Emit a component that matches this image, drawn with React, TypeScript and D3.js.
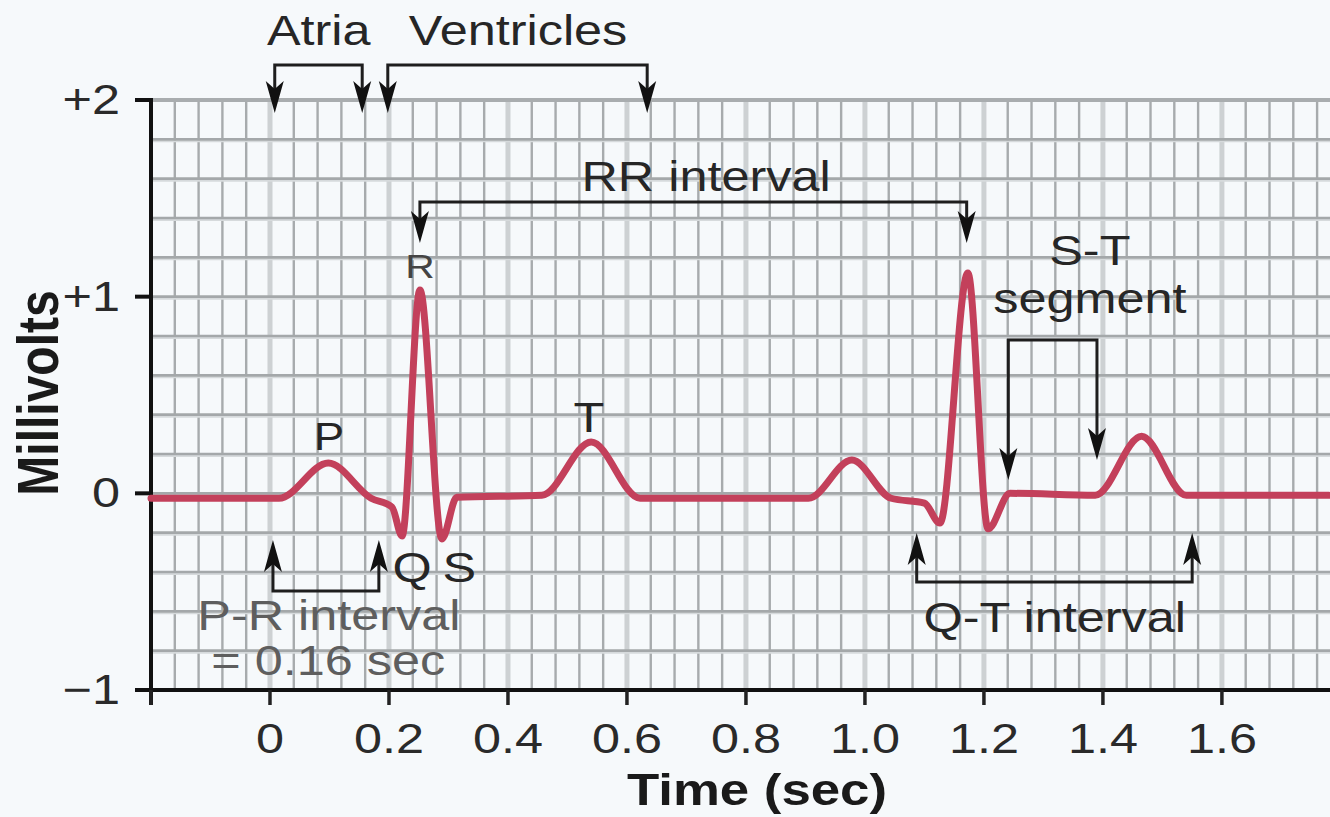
import { scaleLinear, line, curveMonotoneX, range } from "d3";

const WIDTH = 1330;
const HEIGHT = 817;
const FONT = '"Liberation Sans", Arial, Helvetica, sans-serif';
const STRETCH = 1.2; // the original figure is stretched horizontally

// ECG trace: time (sec) and amplitude (mV)
const traceTime = [
  -0.2, 0.015, 0.098, 0.17, 0.205, 0.222, 0.252, 0.289, 0.314, 0.457, 0.54, 0.622,
  0.905, 0.978, 1.044, 1.1, 1.126, 1.173, 1.207, 1.244, 1.387, 1.465, 1.54, 1.78,
];
const traceMv = [
  -0.025, -0.025, 0.154, -0.025, -0.07, -0.217, 1.034, -0.232, -0.02, -0.01, 0.261, -0.025,
  -0.025, 0.169, -0.025, -0.05, -0.151, 1.12, -0.18, 0.0, -0.01, 0.29, -0.01, -0.01,
];

const xTickValues = [-0.2, 0, 0.2, 0.4, 0.6, 0.8, 1.0, 1.2, 1.4, 1.6];
const xTickLabels = ["", "0", "0.2", "0.4", "0.6", "0.8", "1.0", "1.2", "1.4", "1.6"];
const yTickValues = [-1, 0, 1, 2];
const yTickLabels = ["\u22121", "0", "+1", "+2"];

// interval brackets: start / end time, bar level and arrow tip levels (mV)
const bracketNames = ["atria", "ventricles", "rr", "st", "pr", "qt"];
const bracketStart = [0.008, 0.198, 0.252, 1.241, 0.005, 1.087];
const bracketEnd = [0.155, 0.634, 1.171, 1.39, 0.183, 1.55];
const bracketBar = [2.178, 2.178, 1.481, 0.78, -0.497, -0.451];
const bracketTipStart = [1.934, 1.934, 1.273, 0.068, -0.237, -0.202];
const bracketTipEnd = [1.934, 1.934, 1.273, 0.169, -0.237, -0.202];

// annotation text anchored in data space
const labelText = [
  "Atria", "Ventricles", "RR interval", "R", "S-T", "segment", "P", "T", "Q", "S",
  "P-R interval", "= 0.16 sec", "Q-T interval",
];
const labelTime = [0.082, 0.417, 0.733, 0.252, 1.378, 1.378, 0.099, 0.536, 0.239, 0.318, 0.099, 0.098, 1.319];
const labelMv = [2.28, 2.28, 1.537, 1.095, 1.161, 0.917, 0.22, 0.312, -0.451, -0.451, -0.695, -0.924, -0.705];

const x = scaleLinear().domain([-0.2, 1.78]).range([151, 1329]);
const y = scaleLinear().domain([-1, 2]).range([690, 100]);

function StretchText({
  px,
  py,
  children,
  size = 42,
  anchor = "middle",
  weight = 400,
  fill = "#262626",
}: {
  px: number;
  py: number;
  children: string;
  size?: number;
  anchor?: string;
  weight?: number;
  fill?: string;
}) {
  return (
    <g transform={`translate(${px},${py}) scale(${STRETCH},1)`}>
      <text
        textAnchor={anchor}
        fontFamily={FONT}
        fontSize={size}
        fontWeight={weight}
        fill={fill}
      >
        {children}
      </text>
    </g>
  );
}

function arrowHead(px: number, tipY: number, dir: number) {
  const len = 32;
  const half = 9;
  return `M${px},${tipY} L${px - half},${tipY - dir * len} L${px},${tipY - dir * (len - 8)} L${px + half},${tipY - dir * len} Z`;
}

export default function App() {
  const points = traceTime.map((t, i) => [t, traceMv[i]] as [number, number]);
  const tracePath = line<[number, number]>()
    .x((d) => x(d[0]))
    .y((d) => y(d[1]))
    .curve(curveMonotoneX)(points);

  const vLines = range(0, 50).map((k) => -0.2 + k * 0.04).filter((t) => t > -0.19 && t <= 1.78);
  const hLines = range(0, 15).map((k) => -1 + k * 0.2).filter((v) => v > -0.99 && v < 1.99);

  return (
    <svg
      width={WIDTH}
      height={HEIGHT}
      viewBox={`0 0 ${WIDTH} ${HEIGHT}`}
      style={{ position: "absolute", left: 0, top: 0, display: "block" }}
    >
      <rect x={0} y={0} width={WIDTH} height={HEIGHT} fill="#f6f9fb" />

      {/* grid */}
      {vLines.map((t) => {
        const major = Math.abs(Math.round(t / 0.2) * 0.2 - t) < 1e-6;
        return (
          <line
            key={`v${t.toFixed(2)}`}
            x1={x(t)}
            x2={x(t)}
            y1={y(2)}
            y2={y(-1)}
            stroke={major ? "#cdd1d3" : "#a7abad"}
            strokeWidth={major ? 5 : 2.4}
          />
        );
      })}
      {hLines.map((v) => (
        <g key={`h${v.toFixed(1)}`}>
          <line x1={x(-0.2)} x2={WIDTH} y1={y(v) + 2} y2={y(v) + 2} stroke="#d6dadc" strokeWidth={2} />
          <line x1={x(-0.2)} x2={WIDTH} y1={y(v)} y2={y(v)} stroke="#a4a8aa" strokeWidth={2.6} />
        </g>
      ))}
      <line x1={x(-0.2)} x2={WIDTH} y1={y(2)} y2={y(2)} stroke="#a9adaf" strokeWidth={4} />

      {/* axes */}
      <line x1={x(-0.2)} x2={x(-0.2)} y1={y(2) - 2} y2={y(-1) + 15} stroke="#111" strokeWidth={4} />
      <line x1={x(-0.2) - 2} x2={WIDTH} y1={y(-1)} y2={y(-1)} stroke="#111" strokeWidth={4} />
      {yTickValues.map((v, i) => (
        <g key={`yt${v}`}>
          <line x1={x(-0.2) - 16} x2={x(-0.2)} y1={y(v)} y2={y(v)} stroke="#111" strokeWidth={4} />
          <StretchText px={120} py={y(v) + 14} anchor="end" fill="#2a2a2a">
            {yTickLabels[i]}
          </StretchText>
        </g>
      ))}
      {xTickValues.map((t, i) => (
        <g key={`xt${t}`}>
          <line x1={x(t)} x2={x(t)} y1={y(-1)} y2={y(-1) + 15} stroke="#222" strokeWidth={3.5} />
          {xTickLabels[i] && (
            <StretchText px={x(t)} py={753} fill="#2a2a2a">
              {xTickLabels[i]}
            </StretchText>
          )}
        </g>
      ))}
      <StretchText px={757} py={805} size={44} weight={700} fill="#1a1a1a">
        Time (sec)
      </StretchText>
      <g transform={`translate(58, 393) scale(${STRETCH},1) rotate(-90)`}>
        <text textAnchor="middle" fontFamily={FONT} fontSize={48} fontWeight={700} fill="#1a1a1a">
          Millivolts
        </text>
      </g>

      {/* ECG trace */}
      <path
        d={tracePath ?? ""}
        fill="none"
        stroke="#c3405b"
        strokeWidth={7}
        strokeLinejoin="round"
        strokeLinecap="round"
      />

      {/* interval brackets */}
      {bracketNames.map((name, i) => {
        const x1 = x(bracketStart[i]);
        const x2 = x(bracketEnd[i]);
        const bar = y(bracketBar[i]);
        const t1 = y(bracketTipStart[i]);
        const t2 = y(bracketTipEnd[i]);
        const d1 = t1 > bar ? 1 : -1;
        const d2 = t2 > bar ? 1 : -1;
        return (
          <g key={name}>
            <path
              d={`M${x1},${t1 - d1 * 24} L${x1},${bar} L${x2},${bar} L${x2},${t2 - d2 * 24}`}
              fill="none"
              stroke="#1e1e1e"
              strokeWidth={3}
            />
            <path d={arrowHead(x1, t1, d1)} fill="#111" />
            <path d={arrowHead(x2, t2, d2)} fill="#111" />
          </g>
        );
      })}

      {/* labels */}
      {labelText.map((txt, i) => {
        const small = txt === "R";
        const faded = txt === "P-R interval" || txt === "= 0.16 sec";
        return (
          <StretchText
            key={txt}
            px={x(labelTime[i])}
            py={y(labelMv[i])}
            size={small ? 34 : txt === "P" ? 38 : 42}
            fill={faded ? "#5e5e5e" : small ? "#444" : "#262626"}
          >
            {txt}
          </StretchText>
        );
      })}
    </svg>
  );
}
